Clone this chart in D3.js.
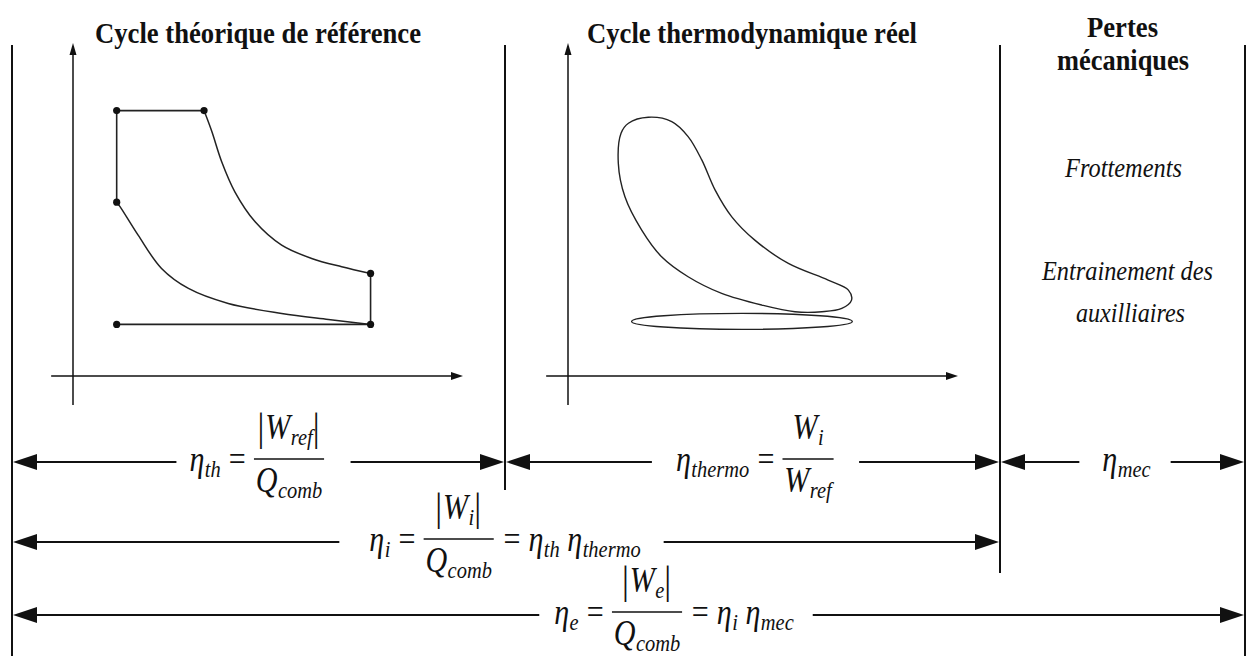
<!DOCTYPE html>
<html>
<head>
<meta charset="utf-8">
<script src="https://cdn.jsdelivr.net/npm/d3@7"></script>
<style>
  body { margin: 0; background: #fff; }
  svg { display: block; }
</style>
</head>
<body>
<div id="fig"></div>
<script>
// Taille de la figure
const w = 1247;
const h = 656;

// Cycle théorique de référence : points (V, P) en unités arbitraires
const pointsRef = [[1.12, 7.97], [3.36, 7.97], [1.12, 5.22], [7.63, 3.08], [7.63, 1.55], [1.12, 1.55]];
const segmentsRef = [
  [[1.12, 1.55], [7.63, 1.55]],
  [[7.63, 1.55], [7.63, 3.08]],
  [[3.36, 7.97], [1.12, 7.97]],
  [[1.12, 7.97], [1.12, 5.22]]
];
const detente = [[3.36, 7.97], [3.56, 7.34], [3.81, 6.44], [4.15, 5.53], [4.67, 4.63], [5.35, 3.93],
                 [6.12, 3.53], [6.89, 3.28], [7.63, 3.08]];
const compression = [[1.12, 5.22], [1.21, 5.08], [1.67, 4.23], [2.27, 3.23], [2.96, 2.63], [3.98, 2.18],
                     [5.35, 1.88], [6.55, 1.70], [7.63, 1.55]];

// Cycle thermodynamique réel : boucle haute pression et boucle de pompage
const boucleReelle = [[1.36, 7.29], [1.55, 7.59], [2.06, 7.77], [2.66, 7.64], [3.08, 7.19], [3.43, 6.49],
                      [3.77, 5.59], [4.20, 4.78], [4.79, 4.08], [5.65, 3.38], [6.67, 2.88], [7.19, 2.58],
                      [7.27, 2.28], [7.02, 2.03], [6.51, 1.93], [5.82, 1.93], [4.97, 2.13], [3.94, 2.48],
                      [3.08, 2.98], [2.40, 3.58], [1.89, 4.38], [1.46, 5.38], [1.29, 6.39]];
const pompageCentre = [4.46, 1.64];
const pompageRayons = [2.83, 0.24];

// Textes
const titres = ['Cycle théorique de référence', 'Cycle thermodynamique réel'];
const titrePertes = ['Pertes', 'mécaniques'];
const pertes = [['Frottements'], ['Entrainement des', 'auxilliaires']];

// Formules (jetons)
const V = (b, s) => ({ k: 'v', b: b, s: s });
const O = (b) => ({ k: 'o', b: b });
const D = (b) => ({ k: 'd', b: b });
const S = (n) => ({ k: 's', n: n });
const Fr = (n, d) => ({ k: 'f', n: n, d: d });

const etaTh = [V('η', 'th'), O('='), Fr([D('|'), V('W', 'ref'), D('|')], [V('Q', 'comb')])];
const etaThermo = [V('η', 'thermo'), O('='), Fr([V('W', 'i')], [V('W', 'ref')])];
const etaMec = [V('η', 'mec')];
const etaI = [V('η', 'i'), O('='), Fr([D('|'), V('W', 'i'), D('|')], [V('Q', 'comb')]), O('='),
              V('η', 'th'), S(0.25), V('η', 'thermo')];
const etaE = [V('η', 'e'), O('='), Fr([D('|'), V('W', 'e'), D('|')], [V('Q', 'comb')]), O('='),
              V('η', 'i'), S(0.25), V('η', 'mec')];

// Mise en page
const cols = [12, 505, 1000, 1245];
const colTop = 45;
const colBottom = [656, 490, 573, 656];
const panelDx = [0, 495];
const rangees = [
  { a: 0, b: 1, y: 462, cx: 257.5, gl: 13, gr: 25, f: etaTh },
  { a: 1, b: 2, y: 462, cx: 755.5, gl: 24, gr: 24, f: etaThermo },
  { a: 2, b: 3, y: 462, cx: 1126.5, gl: 23, gr: 20, f: etaMec },
  { a: 0, b: 2, y: 542, cx: 505, gl: 30, gr: 23, f: etaI },
  { a: 0, b: 3, y: 615, cx: 674, gl: 15, gr: 19, f: etaE }
];

const ink = '#111';
const serif = '"Liberation Serif", "DejaVu Serif", serif';
const F = 35;       // taille des formules
const sx = 0.86;    // compression horizontale des formules

const svg = d3.select('#fig').append('svg').attr('width', w).attr('height', h);

// Echelles des diagrammes P-V
const xV = d3.scaleLinear().domain([0, 10]).range([73, 463]);
const yP = d3.scaleLinear().domain([0, 10]).range([376, 43]);
const line = d3.line().x(d => xV(d[0])).y(d => yP(d[1]));

// Colonnes
cols.forEach((x, i) => {
  svg.append('line')
     .attr('x1', x).attr('x2', x)
     .attr('y1', colTop).attr('y2', colBottom[i])
     .attr('stroke', ink).attr('stroke-width', 2);
});

// Axes des deux diagrammes
panelDx.forEach(dx => {
  const g = svg.append('g').attr('transform', 'translate(' + dx + ',0)');
  g.append('line')
   .attr('x1', xV(-0.56)).attr('x2', xV(10) - 8)
   .attr('y1', yP(0)).attr('y2', yP(0))
   .attr('stroke', ink).attr('stroke-width', 1.5);
  g.append('line')
   .attr('x1', xV(0)).attr('x2', xV(0))
   .attr('y1', yP(-0.87)).attr('y2', yP(10) + 8)
   .attr('stroke', ink).attr('stroke-width', 1.5);
  const tx = xV(10), ty = yP(0);
  g.append('path').attr('fill', ink)
   .attr('d', 'M' + tx + ',' + ty + 'L' + (tx - 12) + ',' + (ty - 4) + 'L' + (tx - 12) + ',' + (ty + 4) + 'Z');
  const ux = xV(0), uy = yP(10);
  g.append('path').attr('fill', ink)
   .attr('d', 'M' + ux + ',' + uy + 'L' + (ux - 3.5) + ',' + (uy + 12) + 'L' + (ux + 3.5) + ',' + (uy + 12) + 'Z');
});

// Cycle théorique
const gRef = svg.append('g').attr('transform', 'translate(' + panelDx[0] + ',0)');
segmentsRef.forEach(s => {
  gRef.append('path').datum(s).attr('d', line)
      .attr('fill', 'none').attr('stroke', '#222').attr('stroke-width', 1.6);
});
[detente, compression].forEach(c => {
  gRef.append('path').datum(c).attr('d', line.curve(d3.curveCatmullRom.alpha(0.5)))
      .attr('fill', 'none').attr('stroke', '#222').attr('stroke-width', 1.5);
});
line.curve(d3.curveLinear);
gRef.selectAll('circle').data(pointsRef).enter().append('circle')
    .attr('cx', d => xV(d[0])).attr('cy', d => yP(d[1]))
    .attr('r', 3.6).attr('fill', ink);

// Cycle réel
const gReel = svg.append('g').attr('transform', 'translate(' + panelDx[1] + ',0)');
gReel.append('path').datum(boucleReelle)
     .attr('d', d3.line().x(d => xV(d[0])).y(d => yP(d[1])).curve(d3.curveCatmullRomClosed.alpha(0.5)))
     .attr('fill', 'none').attr('stroke', '#222').attr('stroke-width', 1.4);
gReel.append('ellipse')
     .attr('cx', xV(pompageCentre[0])).attr('cy', yP(pompageCentre[1]))
     .attr('rx', xV(pompageRayons[0]) - xV(0)).attr('ry', yP(0) - yP(pompageRayons[1]))
     .attr('fill', 'none').attr('stroke', '#222').attr('stroke-width', 1.4);

// Titres
function texte(x, y, s, size, len, style) {
  const t = svg.append('text')
     .attr('x', x).attr('y', y)
     .attr('text-anchor', 'middle')
     .style('font-family', serif)
     .style('font-size', size + 'px')
     .attr('fill', ink)
     .text(s);
  if (style === 'b') t.style('font-weight', 'bold');
  if (style === 'i') t.style('font-style', 'italic');
  if (len) t.attr('textLength', len).attr('lengthAdjust', 'spacingAndGlyphs');
  return t;
}
texte(258, 43, titres[0], 30, 326, 'b');
texte(752, 43, titres[1], 30, 330, 'b');
texte(1122.5, 37, titrePertes[0], 30, 71, 'b');
texte(1123, 70, titrePertes[1], 30, 132, 'b');
texte(1123.5, 177, pertes[0][0], 27, 117, 'i');
texte(1127.5, 280, pertes[1][0], 27, 171, 'i');
texte(1130.5, 322, pertes[1][1], 27, 109, 'i');

// Moteur de formules
function tspan(g, x, y, s, size, italic) {
  const t = g.append('text')
     .attr('x', x).attr('y', y)
     .style('font-family', serif)
     .style('font-size', size + 'px')
     .style('font-style', italic ? 'italic' : 'normal')
     .attr('fill', ink)
     .text(s);
  return t.node().getComputedTextLength();
}

function poser(g, toks, x, base, barY) {
  toks.forEach(t => {
    if (t.k === 'v') {
      x += tspan(g, x, base, t.b, F, true);
      if (t.s) x += tspan(g, x + 0.5, base + 0.17 * F, t.s, 0.68 * F, true) + 0.5;
    } else if (t.k === 'o') {
      x += 0.27 * F;
      x += tspan(g, x, base, t.b, F, false);
      x += 0.27 * F;
    } else if (t.k === 'd') {
      x += tspan(g, x, base + 0.04 * F, t.b, 1.14 * F, false) + 0.03 * F;
    } else if (t.k === 's') {
      x += t.n * F;
    } else if (t.k === 'f') {
      const gn = g.append('g'), gd = g.append('g');
      const wn = poser(gn, t.n, 0, barY - 20, barY);
      const wd = poser(gd, t.d, 0, barY + 33, barY);
      const bw = Math.max(wn, wd) + 0.12 * F;
      gn.attr('transform', 'translate(' + (x + (bw - wn) / 2) + ',0)');
      gd.attr('transform', 'translate(' + (x + (bw - wd) / 2) + ',0)');
      g.append('line')
       .attr('x1', x).attr('x2', x + bw)
       .attr('y1', barY).attr('y2', barY)
       .attr('stroke', ink).attr('stroke-width', 1.4);
      x += bw + 0.05 * F;
    }
  });
  return x;
}

// Flèches de cotation
function fleche(tip, y, dir) {
  svg.append('path').attr('fill', ink)
     .attr('d', 'M' + tip + ',' + y + 'L' + (tip - dir * 24) + ',' + (y - 8) +
                'L' + (tip - dir * 24) + ',' + (y + 8) + 'Z');
}

rangees.forEach(r => {
  const g = svg.append('g');
  const wf = poser(g, r.f, 0, r.y + 9, r.y - 3) * sx;
  const x0 = r.cx - wf / 2;
  g.attr('transform', 'translate(' + x0 + ',0) scale(' + sx + ',1)');
  const xa = cols[r.a] + 1, xb = cols[r.b] - 1;
  svg.append('line').attr('x1', xa + 10).attr('x2', x0 - r.gl)
     .attr('y1', r.y).attr('y2', r.y).attr('stroke', ink).attr('stroke-width', 2);
  svg.append('line').attr('x1', x0 + wf + r.gr).attr('x2', xb - 10)
     .attr('y1', r.y).attr('y2', r.y).attr('stroke', ink).attr('stroke-width', 2);
  fleche(xa, r.y, -1);
  fleche(xb, r.y, 1);
});
</script>
</body>
</html>
